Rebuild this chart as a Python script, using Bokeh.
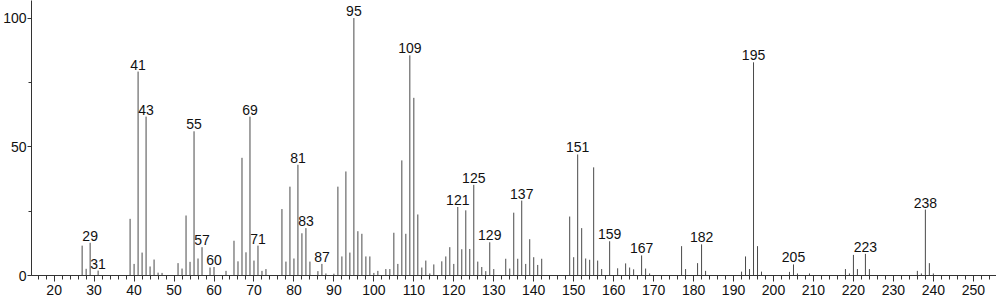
from bokeh.plotting import figure
from bokeh.models import Range1d, SingleIntervalTicker, ColumnDataSource
from bokeh.core.properties import value
from bokeh.embed import file_html
from bokeh.resources import INLINE

mz = [27, 28, 29, 31, 39, 40, 41, 42, 43, 44, 45, 46, 47, 51, 52, 53, 54, 55, 56, 57,
      59, 60, 63, 65, 66, 67, 68, 69, 70, 71, 72, 73, 77, 78, 79, 80, 81, 82, 83, 84,
      86, 87, 88, 90, 91, 92, 93, 94, 95, 96, 97, 98, 99, 100, 101, 103, 104, 105, 106, 107,
      108, 109, 110, 111, 112, 113, 114, 115, 117, 118, 119, 120, 121, 122, 123, 124, 125, 126, 127, 128,
      129, 130, 133, 134, 135, 136, 137, 138, 139, 140, 141, 142, 149, 150, 151, 152, 153, 154, 155, 156,
      157, 159, 161, 163, 164, 165, 167, 168, 169, 177, 178, 181, 182, 183, 192, 193, 194, 195, 196, 197,
      204, 205, 206, 209, 218, 219, 220, 221, 223, 224, 236, 237, 238, 239, 240]
intensity = [11.6, 2.6, 12.7, 1.9, 22.0, 4.5, 79.2, 8.9, 61.7, 3.5, 6.2, 1.1, 1.0, 4.8, 2.7, 23.3, 5.3, 56.0, 6.6, 11.0,
             3.1, 3.3, 1.8, 13.5, 5.5, 45.7, 9.0, 61.7, 5.8, 11.6, 1.8, 2.5, 25.8, 5.4, 34.5, 6.6, 43.0, 16.4, 18.4, 5.4,
             1.7, 4.5, 0.8, 0.7, 34.5, 7.4, 40.4, 8.9, 100.0, 17.2, 16.2, 7.4, 7.4, 1.0, 1.8, 2.5, 2.5, 16.6, 4.5, 44.7,
             16.2, 85.5, 69.0, 23.7, 3.1, 5.8, 0.8, 4.3, 5.5, 7.4, 11.0, 4.5, 26.6, 10.2, 25.3, 10.3, 35.2, 5.4, 3.3, 1.7,
             12.9, 2.5, 6.5, 2.7, 24.4, 6.5, 29.1, 4.5, 14.1, 7.1, 4.1, 6.5, 22.9, 7.1, 47.0, 18.4, 6.6, 6.1, 42.0, 5.8,
             2.5, 13.3, 2.8, 4.7, 3.1, 2.4, 7.8, 2.7, 0.8, 11.4, 2.5, 4.8, 12.1, 1.8, 1.5, 7.4, 2.5, 82.8, 11.4, 1.5,
             1.4, 4.3, 0.8, 0.8, 2.5, 0.8, 8.0, 2.5, 8.4, 2.5, 1.8, 0.8, 25.6, 4.8, 0.8]
labeled = [29, 31, 41, 43, 55, 57, 60, 69, 71, 81, 83, 87, 95, 109, 121, 125, 129, 137,
           151, 159, 167, 182, 195, 205, 223, 238]

lookup = dict(zip(mz, intensity))
lab_x = labeled
lab_y = [lookup[m] for m in labeled]
lab_t = [str(m) for m in labeled]

p = figure(width=996, height=299, output_backend="svg", toolbar_location=None,
           x_range=Range1d(14.33, 255.8), y_range=Range1d(0, 106.8),
           min_border_left=30, min_border_right=0, min_border_top=0, min_border_bottom=24)
p.outline_line_color = None
p.xgrid.visible = False
p.ygrid.visible = False
p.background_fill_color = "white"
p.border_fill_color = "white"

p.segment(x0=mz, y0=[0] * len(mz), x1=mz, y1=intensity, line_color="#4a4a4a", line_width=1)

src = ColumnDataSource(dict(x=lab_x, y=lab_y, t=lab_t))
p.text(x="x", y="y", text="t", source=src, text_align="center", text_baseline="alphabetic",
       y_offset=-7, text_font=value("Liberation Sans"), text_font_size="14px", text_color="#111111")

xa = p.xaxis[0]
xa.ticker = SingleIntervalTicker(interval=10, num_minor_ticks=5)
xa.major_tick_in = 0
xa.major_tick_out = 6
xa.minor_tick_in = 0
xa.minor_tick_out = 4
xa.major_label_standoff = 3
ya = p.yaxis[0]
ya.ticker = SingleIntervalTicker(interval=50, num_minor_ticks=2)
ya.major_tick_in = 0
ya.major_tick_out = 4
ya.minor_tick_in = 0
ya.minor_tick_out = 3
ya.major_label_standoff = 1
for ax in (xa, ya):
    ax.axis_line_color = "#333333"
    ax.major_tick_line_color = "#333333"
    ax.minor_tick_line_color = "#333333"
    ax.major_label_text_font = "Liberation Sans"
    ax.major_label_text_font_size = "14px"
    ax.major_label_text_color = "#111111"

open("out.html", "w").write(file_html(p, INLINE))
